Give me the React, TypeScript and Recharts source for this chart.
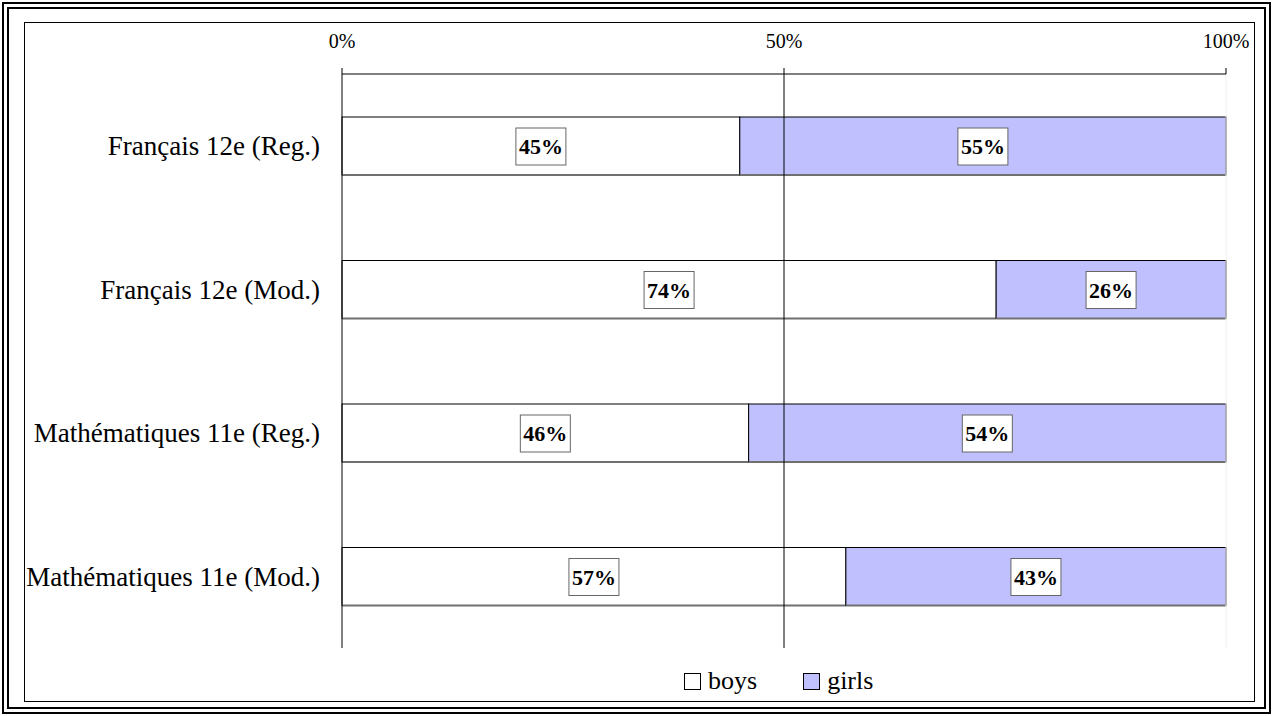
import { BarChart, Bar, XAxis, YAxis, LabelList, ReferenceLine } from 'recharts'

const categories = ['Français 12e (Reg.)', 'Français 12e (Mod.)', 'Mathématiques 11e (Reg.)', 'Mathématiques 11e (Mod.)']
const boys = [45, 74, 46, 57]
const girls = [55, 26, 54, 43]
const xTicks = [0, 50, 100]
const seriesNames = ['boys', 'girls']
const seriesColors = ['#ffffff', '#c0c0ff']

const data = categories.map((name, i) => ({ name, boys: boys[i], girls: girls[i] }))

const FONT = '"Liberation Serif", "Times New Roman", serif'

// segment with a thin black outline and a grey bottom edge
function Segment(p: any) {
  const { x, y, width, height, fill } = p
  return (
    <g>
      <rect x={x} y={y} width={width} height={height} fill={fill} stroke="#000" strokeWidth={1} />
      <line x1={x} x2={x + width} y1={y + height} y2={y + height} stroke="#707070" strokeWidth={2} />
    </g>
  )
}

// boxed value label centred in the segment
function ValueBox(p: any) {
  const { x, y, width, height, value } = p
  const cx = x + width / 2
  const cy = y + height / 2
  return (
    <g>
      <rect x={cx - 25} y={cy - 18} width={50} height={37} fill="#fff" stroke="#666" strokeWidth={1} />
      <text x={cx} y={cy + 8} textAnchor="middle" fontFamily={FONT} fontWeight="bold" fontSize={22} fill="#000">
        {`${value}%`}
      </text>
    </g>
  )
}

export default function App() {
  return (
    <div style={{ position: 'absolute', left: 0, top: 0, width: 1273, height: 716, background: '#fff', fontFamily: FONT }}>
      <div style={{ position: 'absolute', left: 2, top: 2, width: 1269, height: 712, boxSizing: 'border-box', border: '7px double #000' }} />
      <div style={{ position: 'absolute', left: 24, top: 22, width: 1231, height: 680, boxSizing: 'border-box', border: '1px solid #000' }} />
      <div style={{ position: 'absolute', left: 0, top: 0 }}>
        <BarChart width={1273} height={716} layout="vertical" data={data} barSize={58}
          margin={{ top: 44, right: 47, bottom: 68, left: 0 }}>
          <XAxis type="number" orientation="top" domain={[0, 100]} ticks={xTicks} height={30}
            tickFormatter={(v: number) => `${v}%`} tickMargin={20}
            axisLine={{ stroke: '#000' }} tickLine={{ stroke: '#000' }}
            tick={{ fontSize: 20, fill: '#000', fontFamily: FONT }} />
          <YAxis type="category" dataKey="name" width={342} tickLine={false} tickMargin={16}
            axisLine={{ stroke: '#000' }}
            tick={{ fontSize: 27, fill: '#000', fontFamily: FONT }} />
          <ReferenceLine x={50} stroke="#000" strokeWidth={1} />
          <ReferenceLine x={100} stroke="#f0f0f0" strokeWidth={1} />
          {seriesNames.map((s, i) => (
            <Bar key={s} dataKey={s} stackId="a" fill={seriesColors[i]} shape={<Segment />} isAnimationActive={false}>
              <LabelList dataKey={s} content={<ValueBox />} />
            </Bar>
          ))}
        </BarChart>
      </div>
      <div style={{ position: 'absolute', left: 684, top: 666, display: 'flex', alignItems: 'center', fontSize: 26, lineHeight: '30px' }}>
        {seriesNames.map((s, i) => (
          <div key={s} style={{ display: 'flex', alignItems: 'center', marginRight: i === 0 ? 46 : 0 }}>
            <span style={{ display: 'inline-block', width: 15, height: 15, border: '1px solid #000', background: seriesColors[i], marginRight: 7 }} />
            <span>{s}</span>
          </div>
        ))}
      </div>
    </div>
  )
}
